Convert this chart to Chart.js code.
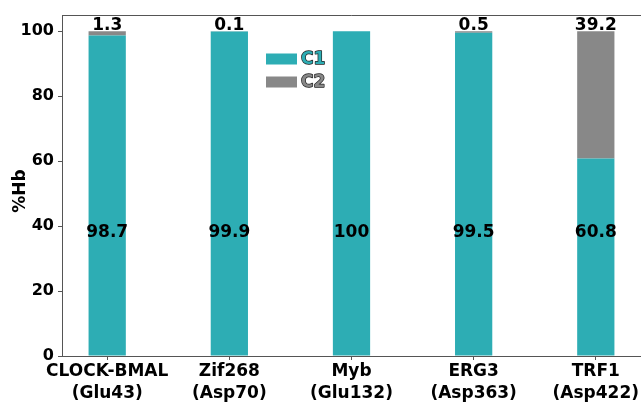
<!DOCTYPE html>
<html><head><meta charset="utf-8">
<script src="https://cdn.jsdelivr.net/npm/chart.js@4.4.1/dist/chart.umd.min.js"></script>
<style>html,body{margin:0;padding:0;background:#fff}#wrap{width:641px;height:403px}</style>
</head><body><div id="wrap"><canvas id="c" width="641" height="403"></canvas></div>
<script>
const categories = ["CLOCK-BMAL","Zif268","Myb","ERG3","TRF1"];
const subLabels = ["(Glu43)","(Asp70)","(Glu132)","(Asp363)","(Asp422)"];
const c1Values = [98.7, 99.9, 100, 99.5, 60.8];
const c2Values = [1.3, 0.1, 0, 0.5, 39.2];
const c1Labels = ["98.7","99.9","100","99.5","60.8"];
const c2Labels = ["1.3","0.1","","0.5","39.2"];
const yTicks = [0,20,40,60,80,100];

const TEAL = '#2dadb4', GREY = '#888888';
const FONT = '"DejaVu Sans", Verdana, sans-serif';

const overlay = {
  id:'overlay',
  afterDatasetsDraw(chart){
    const ctx = chart.ctx, xs = chart.scales.x, ys = chart.scales.y, a = chart.chartArea;
    ctx.save();
    ctx.fillStyle = '#000';
    ctx.textAlign = 'center';
    ctx.textBaseline = 'middle';
    ctx.font = 'bold 17px ' + FONT;
    c1Labels.forEach((t,i)=>{ ctx.fillText(t, xs.getPixelForValue(i), ys.getPixelForValue(38)); });
    ctx.textBaseline = 'alphabetic';
    c2Labels.forEach((t,i)=>{ if(t) ctx.fillText(t, xs.getPixelForValue(i), ys.getPixelForValue(100.3)); });
    // y title
    ctx.save();
    ctx.translate(21, 191); ctx.rotate(-Math.PI/2);
    ctx.textBaseline = 'middle'; ctx.font = 'bold 17px ' + FONT;
    ctx.fillText('%Hb', 0, 0);
    ctx.restore();
    // frame
    ctx.strokeStyle = '#555'; ctx.lineWidth = 1;
    ctx.beginPath();
    ctx.moveTo(a.left+0.5, a.bottom); ctx.lineTo(a.left+0.5, a.top+0.5); ctx.lineTo(a.right, a.top+0.5);
    ctx.stroke();
    // legend
    const items = chart.data.datasets;
    ctx.font = 'bold 17px ' + FONT;
    ctx.textAlign = 'left'; ctx.textBaseline = 'middle';
    items.forEach((d,i)=>{
      const y = 59 + i*23;
      ctx.fillStyle = d.backgroundColor;
      ctx.fillRect(266, y-5.5, 31, 11);
      ctx.lineWidth = 1.4; ctx.strokeStyle = '#222'; ctx.lineJoin='round';
      ctx.strokeText(d.label, 301, y+1);
      ctx.fillStyle = d.backgroundColor;
      ctx.fillText(d.label, 301, y+1);
    });
    ctx.restore();
  }
};

new Chart(document.getElementById('c'), {
  type:'bar',
  data:{
    datasets:[
      {label:'C1', data:c1Values.map((v,i)=>({x:i,y:v})), backgroundColor:TEAL, borderWidth:0},
      {label:'C2', data:c2Values.map((v,i)=>({x:i,y:v})), backgroundColor:GREY, borderWidth:0}
    ]
  },
  plugins:[overlay],
  options:{
    responsive:false, animation:false,
    barPercentage:0.305, categoryPercentage:1,
    layout:{padding:{top:15,right:0,left:0,bottom:0}},
    plugins:{legend:{display:false}, tooltip:{enabled:false}},
    scales:{
      x:{type:'linear', stacked:true, offset:false, min:-0.37, max:4.37,
        afterBuildTicks(s){ s.ticks = categories.map((_,i)=>({value:i})); },
        afterFit(s){ s.height = 47; },
        grid:{display:true, offset:false, drawOnChartArea:false, drawTicks:true, tickLength:4, color:'#555'},
        border:{display:true, color:'#555'},
        ticks:{autoSkip:false, maxRotation:0, padding:1, color:'#000',
          font:{family:FONT, size:17, weight:'bold', lineHeight:1.27},
          callback:(v)=>[categories[v], subLabels[v]]}
      },
      y:{stacked:true, min:0, max:105,
        afterBuildTicks(s){ s.ticks = yTicks.map(v=>({value:v})); },
        afterFit(s){ s.width = 62; },
        grid:{display:true, drawOnChartArea:false, drawTicks:true, tickLength:4, color:'#555'},
        border:{display:true, color:'#555'},
        ticks:{color:'#000', padding:4, font:{family:FONT, size:16, weight:'bold'}}
      }
    }
  }
});
</script></body></html>
